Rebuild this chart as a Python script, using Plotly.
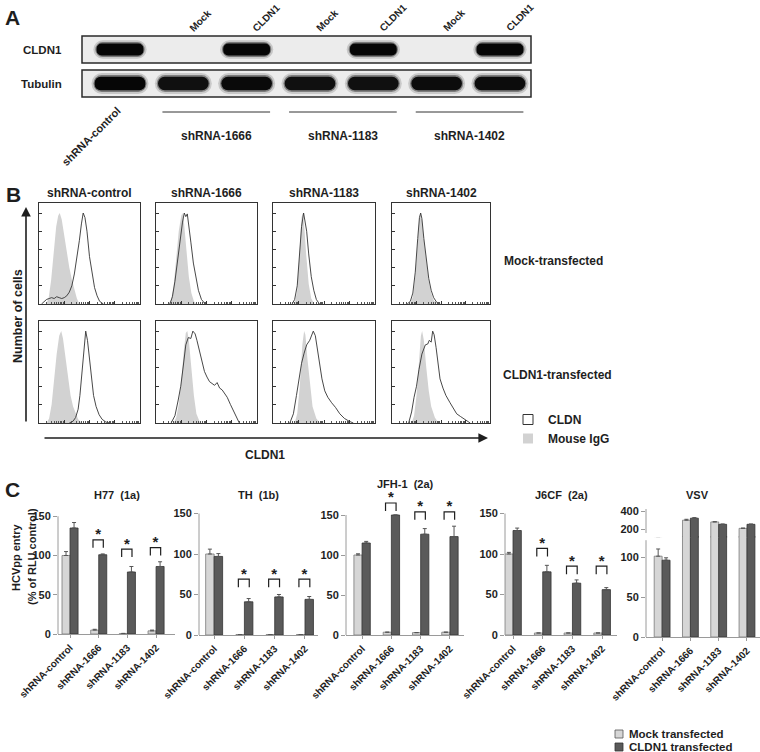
import numpy as np
import plotly.graph_objects as go

W, H = 760, 752
FONT = "Liberation Sans, Arial, sans-serif"
INK = "#1e1e1e"
LIGHT = "#d6d6d6"
DARK = "#5a5a5a"
IGG_GREY = "#d2d2d2"

# ---------------- A: western blot ----------------
LANES = [0, 1, 2, 3, 4, 5, 6]
LANE_TOP = ["", "Mock", "CLDN1", "Mock", "CLDN1", "Mock", "CLDN1"]
CLDN1_BAND = [1.0, 0.0, 1.0, 0.0, 1.0, 0.0, 1.0]
TUBULIN_BAND = [1.0, 0.92, 0.97, 0.92, 0.92, 0.95, 0.95]
SHRNA_GROUPS = [("shRNA-1666", 1, 2), ("shRNA-1183", 3, 4), ("shRNA-1402", 5, 6)]

# ---------------- B: flow cytometry (x = log10 fluorescence, y = % of max) ----------------
B_COLS = ["shRNA-control", "shRNA-1666", "shRNA-1183", "shRNA-1402"]
B_ROWS = ["Mock-transfected", "CLDN1-transfected"]

igg_x_ctrl_mock = [0.28, 0.38, 0.48, 0.58, 0.68, 0.76, 0.82, 0.9, 1.0, 1.1, 1.2, 1.3, 1.4, 1.5, 1.6]
igg_y_ctrl_mock = [0, 6, 26, 58, 85, 97, 100, 93, 74, 55, 40, 27, 15, 6, 0]
cldn_x_ctrl_mock = [0.1, 0.2, 0.3, 0.4, 0.5, 0.6, 0.7, 0.8, 0.9, 1.0, 1.1, 1.2, 1.3, 1.4, 1.5,
                    1.6, 1.68, 1.75, 1.82, 1.9, 2.0, 2.1, 2.2, 2.3, 2.4, 2.55]
cldn_y_ctrl_mock = [0, 3, 5, 6, 7, 6, 8, 7, 6, 7, 9, 13, 20, 33, 50,
                    70, 88, 100, 95, 80, 52, 33, 18, 9, 3, 0]

igg_x_1666_mock = [0.5, 0.6, 0.7, 0.8, 0.9, 1.0, 1.05, 1.1, 1.2, 1.3, 1.4, 1.5, 1.6]
igg_y_1666_mock = [0, 5, 20, 50, 80, 97, 100, 92, 60, 30, 12, 3, 0]
cldn_x_1666_mock = [0.55, 0.65, 0.75, 0.85, 0.95, 1.05, 1.12, 1.18, 1.24, 1.3, 1.38, 1.48, 1.58, 1.68, 1.8, 1.95]
cldn_y_1666_mock = [0, 8, 25, 48, 72, 90, 100, 96, 99, 88, 68, 45, 28, 15, 5, 0]

igg_x_1183_mock = [0.85, 0.95, 1.05, 1.12, 1.16, 1.22, 1.3, 1.4, 1.5, 1.62]
igg_y_1183_mock = [0, 15, 60, 95, 100, 88, 55, 22, 6, 0]
cldn_x_1183_mock = [0.75, 0.85, 0.95, 1.05, 1.12, 1.2, 1.26, 1.32, 1.4, 1.5, 1.6, 1.7, 1.82]
cldn_y_1183_mock = [0, 5, 20, 55, 85, 100, 92, 80, 55, 30, 15, 5, 0]

igg_x_1402_mock = [0.75, 0.85, 0.95, 1.05, 1.12, 1.16, 1.22, 1.3, 1.4, 1.5, 1.6, 1.7, 1.83]
igg_y_1402_mock = [0, 8, 30, 70, 95, 100, 92, 70, 45, 25, 12, 4, 0]
cldn_x_1402_mock = [0.62, 0.75, 0.85, 0.95, 1.05, 1.12, 1.17, 1.22, 1.3, 1.4, 1.5, 1.6, 1.7, 1.82, 1.97]
cldn_y_1402_mock = [0, 3, 12, 35, 72, 95, 100, 94, 72, 48, 28, 15, 7, 2, 0]

igg_x_ctrl_cldn = [0.3, 0.4, 0.5, 0.6, 0.7, 0.8, 0.88, 0.95, 1.05, 1.15, 1.25, 1.35, 1.45, 1.55, 1.7]
igg_y_ctrl_cldn = [0, 5, 20, 48, 75, 95, 100, 92, 70, 48, 30, 18, 10, 4, 0]
cldn_x_ctrl_cldn = [1.2, 1.35, 1.45, 1.55, 1.62, 1.7, 1.77, 1.85, 1.92, 2.0, 2.08, 2.16, 2.26, 2.38, 2.5, 2.65, 2.8]
cldn_y_ctrl_cldn = [0, 2, 6, 15, 30, 55, 80, 100, 90, 68, 45, 30, 18, 9, 4, 1, 0]

igg_x_1666_cldn = [0.7, 0.8, 0.9, 1.0, 1.1, 1.18, 1.24, 1.3, 1.4, 1.5, 1.6, 1.75]
igg_y_1666_cldn = [0, 6, 20, 45, 78, 98, 100, 90, 60, 30, 10, 0]
cldn_x_1666_cldn = [0.6, 0.75, 0.88, 0.98, 1.08, 1.18, 1.28, 1.38, 1.46, 1.55, 1.62, 1.72, 1.82, 1.92,
                    2.02, 2.12, 2.22, 2.32, 2.42, 2.52, 2.62, 2.72, 2.82, 2.95, 3.08, 3.2, 3.3]
cldn_y_1666_cldn = [0, 8, 25, 40, 62, 85, 93, 92, 100, 97, 90, 78, 66, 56,
                    50, 45, 43, 41, 44, 38, 36, 32, 28, 20, 12, 5, 0]

igg_x_1183_cldn = [0.85, 0.95, 1.05, 1.15, 1.22, 1.27, 1.35, 1.45, 1.55, 1.7, 1.84]
igg_y_1183_cldn = [0, 10, 40, 85, 100, 96, 70, 40, 18, 5, 0]
cldn_x_1183_cldn = [0.66, 0.8, 0.92, 1.02, 1.12, 1.22, 1.32, 1.44, 1.52, 1.58, 1.66, 1.74, 1.82, 1.92,
                    2.03, 2.15, 2.3, 2.45, 2.62, 2.8, 2.98, 3.15]
cldn_y_1183_cldn = [0, 10, 30, 48, 65, 76, 85, 90, 96, 100, 95, 80, 62, 48,
                    35, 28, 22, 17, 10, 5, 2, 0]

igg_x_1402_cldn = [0.8, 0.9, 1.0, 1.1, 1.18, 1.23, 1.3, 1.4, 1.5, 1.6, 1.75, 1.9]
igg_y_1402_cldn = [0, 8, 30, 70, 95, 100, 90, 60, 35, 18, 6, 0]
cldn_x_1402_cldn = [0.68, 0.8, 0.9, 1.0, 1.1, 1.22, 1.36, 1.46, 1.52, 1.6, 1.66, 1.72, 1.8, 1.88,
                    1.96, 2.08, 2.2, 2.37, 2.5, 2.64, 2.8, 2.98, 3.19]
cldn_y_1402_cldn = [0, 12, 28, 40, 58, 75, 85, 86, 90, 88, 100, 96, 82, 65,
                    48, 38, 30, 22, 16, 10, 7, 4, 0]

# ---------------- C: HCVpp entry (% of RLU control) ----------------
C_LABELS = ["shRNA-control", "shRNA-1666", "shRNA-1183", "shRNA-1402"]
C_POS = [0, 1, 2, 3]

H77_MOCK = [100, 5, 0.5, 4]
H77_MOCK_ERR = [5, 1, 0.3, 1]
H77_CLDN1 = [135, 101, 79, 86]
H77_CLDN1_ERR = [7, 1, 7, 6]
H77_SIG = [None, 120, 108, 110]

TH_MOCK = [100, 0.6, 0.6, 0.6]
TH_MOCK_ERR = [6, 0, 0, 0]
TH_CLDN1 = [97, 41, 47, 44]
TH_CLDN1_ERR = [3.5, 4, 3, 3.5]
TH_SIG = [None, 69, 69, 69]

JFH_MOCK = [100, 3.5, 3, 3.5]
JFH_MOCK_ERR = [1.5, 0, 0, 0]
JFH_CLDN1 = [115, 150, 126, 123]
JFH_CLDN1_ERR = [2, 0, 7, 13]
JFH_SIG = [None, 165, 154, 154]

J6CF_MOCK = [100, 2.5, 2.5, 2.5]
J6CF_MOCK_ERR = [2, 0, 0, 0]
J6CF_CLDN1 = [129, 78, 64, 56]
J6CF_CLDN1_ERR = [3, 8, 4, 2.5]
J6CF_SIG = [None, 107, 85, 85]

VSV_MOCK = [101, 300, 281, 211]
VSV_MOCK_ERR = [9, 10, 3, 3]
VSV_CLDN1 = [96, 322, 255, 255]
VSV_CLDN1_ERR = [3, 6, 3, 3]

C_LEGEND = [("Mock transfected", "#d6d6d6"), ("CLDN1 transfected", "#5a5a5a")]


# ---------------- helpers ----------------
def xdom(a, b):
    return [a / W, b / W]


def ydom(top, bottom):
    return [1 - bottom / H, 1 - top / H]


def ref(n):
    s = "" if n == 1 else str(n)
    return "x" + s, "y" + s


def py(v):
    return 1 - v / H


fig = go.Figure()
layout = dict(
    template="none",
    width=W, height=H, margin=dict(l=0, r=0, t=0, b=0, autoexpand=False),
    paper_bgcolor="white", plot_bgcolor="rgba(0,0,0,0)",
    barmode="overlay", showlegend=True,
    font=dict(family=FONT, color=INK, size=11),
)
shapes, annotations = [], []


def set_axes(n, xd, yd, xopts, yopts):
    s = "" if n == 1 else str(n)
    layout["xaxis" + s] = dict(domain=xd, anchor="y" + s, fixedrange=True, automargin=False, **xopts)
    layout["yaxis" + s] = dict(domain=yd, anchor="x" + s, fixedrange=True, automargin=False, **yopts)


def ann(text, x, y, size=12, xanchor="center", yanchor="middle", angle=0, **kw):
    annotations.append(dict(
        text=text, x=x / W, y=py(y), xref="paper", yref="paper",
        xanchor=xanchor, yanchor=yanchor, textangle=angle, showarrow=False,
        font=dict(size=size, weight="bold", family=FONT, color=INK), **kw))


# ---------------- panel A ----------------
HIDDEN = dict(visible=False)
set_axes(1, xdom(82, 531), ydom(36, 63), dict(range=[-0.6, 6.49], **HIDDEN), dict(range=[0, 1], **HIDDEN))
set_axes(2, xdom(82, 531), ydom(70, 97), dict(range=[-0.6, 6.49], **HIDDEN), dict(range=[0, 1], **HIDDEN))

for n in (1, 2):
    xa, ya = ref(n)
    shapes.append(dict(type="rect", xref=xa + " domain", yref=ya + " domain", x0=0, x1=1, y0=0, y1=1,
                       fillcolor="#ececec", line=dict(color="#2a2a2a", width=1.5), layer="below"))


def add_bands(n, strength, width, thick):
    xa, ya = ref(n)
    lanes = [l for l, s in zip(LANES, strength) if s > 0]
    vals = [s for s in strength if s > 0]
    # soft halo + core so the bands look a bit blurred like film
    for dw, k, alpha in [(0.1, 1.5, 0.16), (0.04, 1.2, 0.4), (0.0, 0.95, 1.0)]:
        full = width + dw
        colors = [f"rgba(6,6,6,{alpha * v:.3f})" for v in vals]
        fig.add_trace(go.Bar(
            orientation="h", y=[0.5] * len(lanes),
            x=[full] * len(lanes), base=[l - full / 2 for l in lanes],
            width=thick * k, marker=dict(color=colors, cornerradius="50%", line_width=0),
            xaxis=xa, yaxis=ya, showlegend=False, hoverinfo="skip"))


add_bands(1, CLDN1_BAND, 0.74, 0.46)
add_bands(2, TUBULIN_BAND, 0.8, 0.52)

ann("CLDN1", 64, 50, 11.5, xanchor="right")
ann("Tubulin", 64, 84, 11.5, xanchor="right")
for lane, lab in zip(LANES, LANE_TOP):
    if lab:
        annotations.append(dict(
            text=lab, x=lane, xref="x", y=py(36), yref="paper", xanchor="left", yanchor="bottom",
            xshift=1, textangle=-45, showarrow=False,
            font=dict(size=10, weight="bold", family=FONT, color=INK)))
annotations.append(dict(
    text="shRNA-control", x=LANES[0], xref="x", y=py(101), yref="paper", xanchor="right", yanchor="top",
    xshift=6, textangle=-45, showarrow=False, font=dict(size=11, weight="bold", family=FONT, color=INK)))
for lab, a, b in SHRNA_GROUPS:
    shapes.append(dict(type="line", xref="x", yref="paper", x0=a - 0.33, x1=b + 0.37, y0=py(112), y1=py(112),
                       line=dict(color="#333", width=1)))
    annotations.append(dict(
        text=lab, x=(a + b) / 2 + 0.02, xref="x", y=py(127), yref="paper", showarrow=False,
        font=dict(size=12, weight="bold", family=FONT, color=INK)))

ann("A", 3, 17, 21, xanchor="left")

# ---------------- panel B ----------------
B_XCOLS = [(39, 140), (156, 257), (273, 375), (392, 490)]
B_YROWS = [(203, 304), (321, 423)]
B_CURVES = [
    [(igg_x_ctrl_mock, igg_y_ctrl_mock, cldn_x_ctrl_mock, cldn_y_ctrl_mock),
     (igg_x_1666_mock, igg_y_1666_mock, cldn_x_1666_mock, cldn_y_1666_mock),
     (igg_x_1183_mock, igg_y_1183_mock, cldn_x_1183_mock, cldn_y_1183_mock),
     (igg_x_1402_mock, igg_y_1402_mock, cldn_x_1402_mock, cldn_y_1402_mock)],
    [(igg_x_ctrl_cldn, igg_y_ctrl_cldn, cldn_x_ctrl_cldn, cldn_y_ctrl_cldn),
     (igg_x_1666_cldn, igg_y_1666_cldn, cldn_x_1666_cldn, cldn_y_1666_cldn),
     (igg_x_1183_cldn, igg_y_1183_cldn, cldn_x_1183_cldn, cldn_y_1183_cldn),
     (igg_x_1402_cldn, igg_y_1402_cldn, cldn_x_1402_cldn, cldn_y_1402_cldn)],
]
minor_ticks = [d + np.log10(k) for d in range(4) for k in range(2, 10)]
n = 3
for r, (yt, yb) in enumerate(B_YROWS):
    for c, (xl, xr) in enumerate(B_XCOLS):
        xa, ya = ref(n)
        set_axes(n, xdom(xl, xr), ydom(yt, yb),
                 dict(range=[0, 4], showline=True, mirror=True, linecolor="#333", linewidth=1,
                      ticks="inside", ticklen=3, tickcolor="#333", tickvals=[0, 1, 2, 3, 4],
                      showticklabels=False, showgrid=False, zeroline=False,
                      minor=dict(tickvals=minor_ticks, ticks="inside", ticklen=2, tickcolor="#555")),
                 dict(range=[0, 111], showline=True, mirror=True, linecolor="#333", linewidth=1,
                      ticks="inside", ticklen=3, tickcolor="#333", dtick=20,
                      showticklabels=False, showgrid=False, zeroline=False))
        gx, gy, kx, ky = B_CURVES[r][c]
        fig.add_trace(go.Scatter(x=gx, y=gy, mode="lines", fill="tozeroy", fillcolor=IGG_GREY,
                                 line=dict(width=0, color=IGG_GREY), xaxis=xa, yaxis=ya,
                                 showlegend=False, hoverinfo="skip"))
        fig.add_trace(go.Scatter(x=kx, y=ky, mode="lines", line=dict(width=0.9, color="#333"),
                                 xaxis=xa, yaxis=ya, showlegend=False, hoverinfo="skip"))
        n += 1

for c, (xl, xr) in enumerate(B_XCOLS):
    ann(B_COLS[c], (xl + xr) / 2, 193, 12)
ann(B_ROWS[0], 502, 261, 12, xanchor="left")
ann(B_ROWS[1], 501, 375, 12, xanchor="left")
ann("Number of cells", 18, 316, 12.5, angle=-90)
ann("CLDN1", 265, 455, 12)
ann("B", 4, 195, 21, xanchor="left")
annotations.append(dict(text="", x=26 / W, y=py(207), xref="paper", yref="paper", ax=0, ay=216,
                        showarrow=True, arrowhead=2, arrowsize=1.2, arrowwidth=1.6, arrowcolor=INK))
annotations.append(dict(text="", x=488 / W, y=py(438), xref="paper", yref="paper", ax=-445, ay=0,
                        showarrow=True, arrowhead=2, arrowsize=1.2, arrowwidth=1.6, arrowcolor=INK))

# legend entries for panel B
fig.add_trace(go.Scatter(x=[None], y=[None], mode="markers", name="CLDN",
                         marker=dict(symbol="square-open", size=10, color="#333", line=dict(width=1)),
                         xaxis="x3", yaxis="y3", legend="legend2"))
fig.add_trace(go.Scatter(x=[None], y=[None], mode="markers", name="Mouse IgG",
                         marker=dict(symbol="square", size=10, color=IGG_GREY),
                         xaxis="x3", yaxis="y3", legend="legend2"))

# ---------------- panel C ----------------
BAR_W = 0.28
AXIS_GREY = "#9a9a9a"


def c_axes(n, xl, xr, zero_px, scale, xrange, yrange, ticks, show_x=True):
    top = zero_px - (yrange[1] - yrange[0]) * scale
    xopts = dict(range=xrange, showgrid=False, zeroline=False)
    if show_x:
        xopts.update(tickvals=C_POS, ticktext=C_LABELS, tickangle=-45,
                     tickfont=dict(size=10, weight="bold", family=FONT, color=INK),
                     ticks="outside", ticklen=3, tickcolor=AXIS_GREY, showline=True, linecolor=AXIS_GREY,
                     linewidth=1)
    else:
        xopts.update(visible=False, showticklabels=False, ticks="", showline=False)
    set_axes(n, xdom(xl, xr), ydom(top, zero_px), xopts,
             dict(range=yrange, tickmode="array", tickvals=ticks, ticks="outside", ticklen=4,
                  tickcolor=AXIS_GREY, tickfont=dict(size=11, weight="bold", family=FONT, color=INK),
                  showline=False, showgrid=False, zeroline=False))


def c_bars(n, mock, mock_err, cldn, cldn_err, lo=None):
    xa, ya = ref(n)
    mock_lo, cldn_lo = [0] * 4, [0] * 4
    if lo is not None:  # upper half of a broken axis: no whiskers for bars that stay below it
        mock_err = [e if v + e > lo else None for v, e in zip(mock, mock_err)]
        cldn_err = [e if v + e > lo else None for v, e in zip(cldn, cldn_err)]
        mock_lo = [0 if e is not None else None for e in mock_err]
        cldn_lo = [0 if e is not None else None for e in cldn_err]
    fig.add_trace(go.Bar(
        x=C_POS, y=mock, offset=-BAR_W, width=BAR_W, name=C_LEGEND[0][0],
        marker=dict(color=LIGHT, line=dict(color="#7a7a7a", width=0.8)),
        error_y=dict(type="data", array=mock_err, arrayminus=mock_lo, symmetric=False,
                     color="#555", thickness=1, width=2),
        xaxis=xa, yaxis=ya, showlegend=False, hoverinfo="skip"))
    fig.add_trace(go.Bar(
        x=C_POS, y=cldn, offset=0, width=BAR_W, name=C_LEGEND[1][0],
        marker=dict(color=DARK, line=dict(color="#333", width=0.8)),
        error_y=dict(type="data", array=cldn_err, arrayminus=cldn_lo, symmetric=False,
                     color="#555", thickness=1, width=2),
        xaxis=xa, yaxis=ya, showlegend=False, hoverinfo="skip"))


def c_sig(n, sig):
    xa, ya = ref(n)
    xs, ys, sx, sy = [], [], [], []
    for i, top in zip(C_POS, sig):
        if top is None:
            continue
        xs += [i - 0.2, i - 0.2, i + 0.16, i + 0.16, None]
        ys += [top - 10, top, top, top - 10, None]
        sx.append(i - 0.02)
        sy.append(top - 4)
    fig.add_trace(go.Scatter(x=xs, y=ys, mode="lines", line=dict(color=INK, width=1.2),
                             xaxis=xa, yaxis=ya, showlegend=False, hoverinfo="skip"))
    fig.add_trace(go.Scatter(x=sx, y=sy, mode="text", text=["*"] * len(sx), textposition="top center",
                             textfont=dict(size=15, weight="bold", family=FONT, color=INK),
                             cliponaxis=False, xaxis=xa, yaxis=ya, showlegend=False, hoverinfo="skip"))


def c_yline(n, y0, y1):
    xa, ya = ref(n)
    shapes.append(dict(type="line", xref=xa + " domain", yref=ya, x0=0, x1=0, y0=y0, y1=y1,
                       line=dict(color=AXIS_GREY, width=1)))


PANELS = [
    (11, "H77  (1a)", 495, 58, 175, 634, 0.785, [-0.42, 3.66], [0, 160], H77_MOCK, H77_MOCK_ERR, H77_CLDN1, H77_CLDN1_ERR, H77_SIG),
    (12, "TH  (1b)", 495, 199, 318, 635, 0.81, [-0.5, 3.43], [0, 160], TH_MOCK, TH_MOCK_ERR, TH_CLDN1, TH_CLDN1_ERR, TH_SIG),
    (13, "JFH-1  (2a)", 484, 346, 464, 635, 0.8, [-0.55, 3.48], [0, 178], JFH_MOCK, JFH_MOCK_ERR, JFH_CLDN1, JFH_CLDN1_ERR, JFH_SIG),
    (14, "J6CF  (2a)", 495, 505, 617, 635, 0.81, [-0.27, 3.5], [0, 160], J6CF_MOCK, J6CF_MOCK_ERR, J6CF_CLDN1, J6CF_CLDN1_ERR, J6CF_SIG),
]
for n, title, ty, xl, xr, z, sc, xr_, yr, m, me, c, ce, sig in PANELS:
    c_axes(n, xl, xr, z, sc, xr_, yr, [0, 50, 100, 150])
    c_bars(n, m, me, c, ce)
    c_sig(n, sig)
    c_yline(n, 0, 150)
    ann(title, (xl + xr) / 2, ty, 11)

# VSV: broken y axis (lower 0-125, upper ~110-420); the two parts overlap by 1 px so bars look continuous
c_axes(15, 646, 760, 637, 0.8, [-0.57, 3.46], [0, 125.8], [0, 50, 100])
c_axes(16, 646, 760, 537.4, 0.0915, [-0.57, 3.46], [112, 422], [200, 400], show_x=False)
c_bars(15, VSV_MOCK, VSV_MOCK_ERR, VSV_CLDN1, VSV_CLDN1_ERR)
c_bars(16, VSV_MOCK, VSV_MOCK_ERR, VSV_CLDN1, VSV_CLDN1_ERR, lo=112)
c_yline(15, 0, 121)
c_yline(16, 160, 422)
ann("VSV", 697, 495, 11)

ann("HCVpp entry", 16, 557, 11, angle=-90)
ann("(% of RLU control)", 32, 557, 11, angle=-90)
ann("C", 3, 490, 21, xanchor="left")

# panel C key (compact, as in the figure)
for k, (lab, col) in enumerate(C_LEGEND):
    yc = 734 + 13 * k
    shapes.append(dict(type="rect", xref="paper", yref="paper", x0=615 / W, x1=623 / W,
                       y0=py(yc + 4), y1=py(yc - 4), fillcolor=col,
                       line=dict(color="#555" if k == 0 else "#333", width=0.8)))
    ann(lab, 627, yc, 11.5, xanchor="left")

layout["legend"] = dict(visible=False)
layout["legend2"] = dict(x=508 / W, y=py(405), xanchor="left", yanchor="top", bgcolor="rgba(0,0,0,0)",
                         font=dict(size=12, weight="bold", family=FONT, color=INK),
                         itemwidth=30, tracegroupgap=0)
layout["shapes"] = shapes
layout["annotations"] = annotations
fig.update_layout(**layout)

fig.write_html("out.html", post_script="document.body.style.margin='0';",
               config={"displayModeBar": False})
